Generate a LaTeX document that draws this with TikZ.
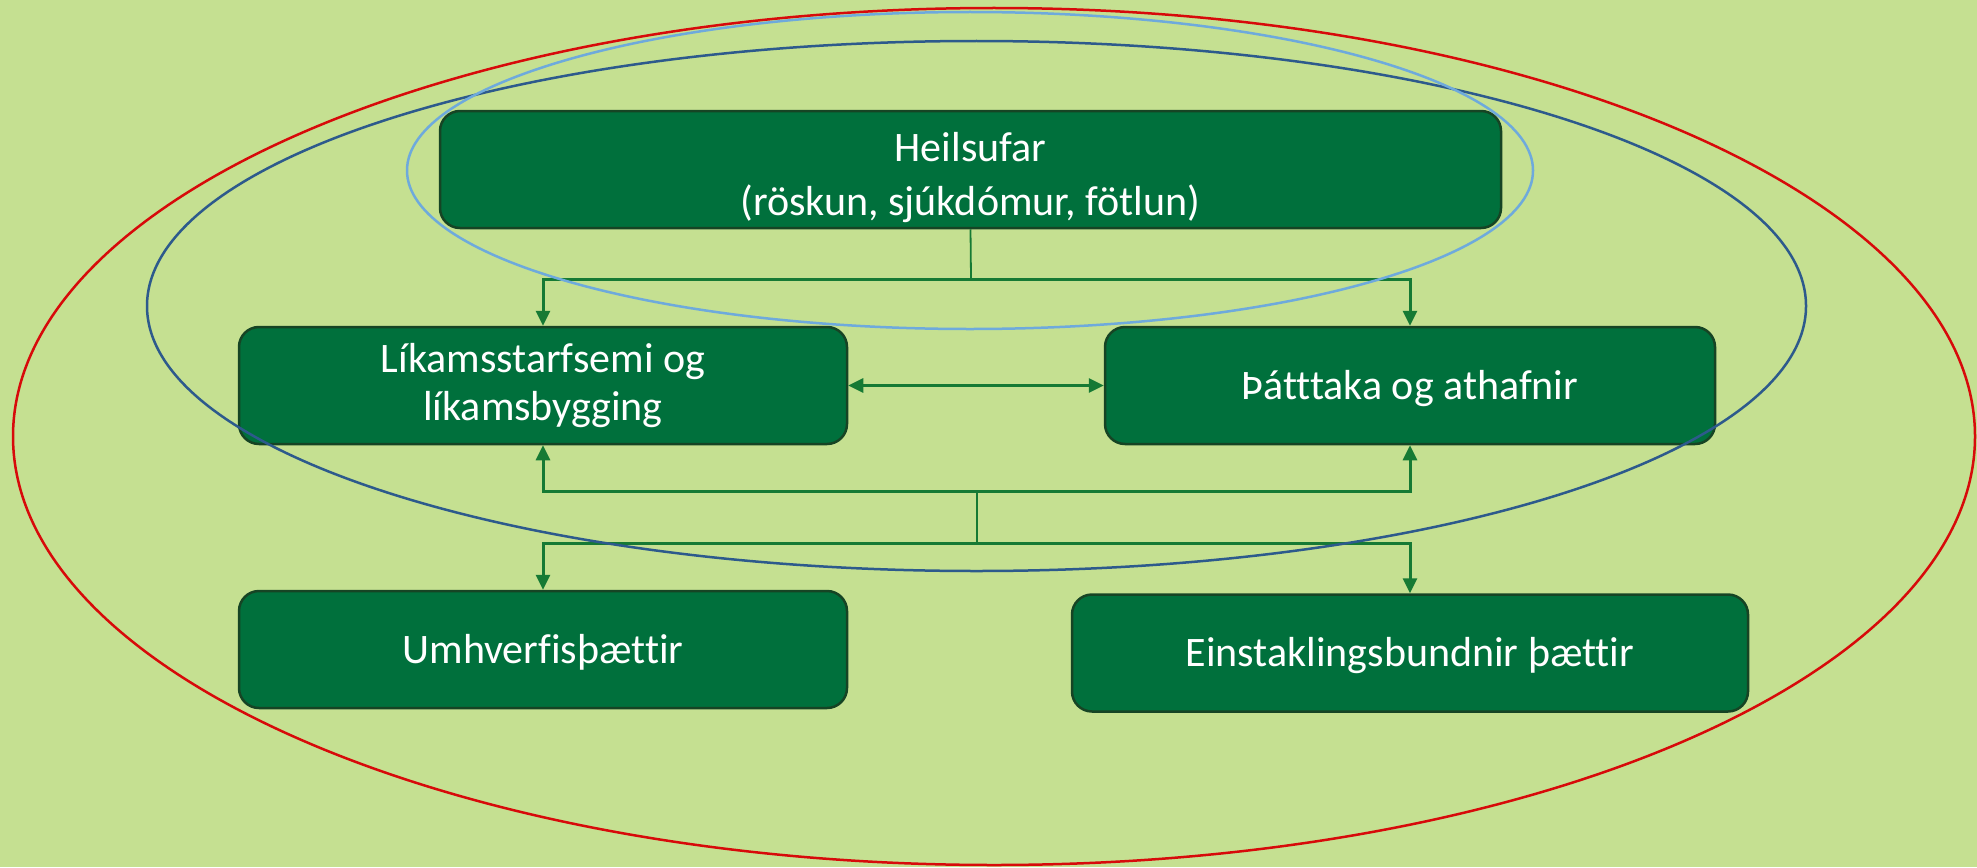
\documentclass[tikz,border=0pt]{standalone}
\usepackage{fontspec}
\setmainfont{Carlito}[Ligatures=NoCommon]
\usetikzlibrary{arrows.meta}
\definecolor{bg}{RGB}{197,224,145}
\definecolor{boxfill}{RGB}{0,112,60}
\definecolor{boxline}{RGB}{22,68,36}
\definecolor{conn}{RGB}{22,122,52}
\definecolor{ellred}{RGB}{215,10,10}
\definecolor{elldark}{RGB}{45,90,140}
\definecolor{elllight}{RGB}{110,170,220}
\newcommand{\tpad}[1]{\rule{0pt}{#1}}
\begin{document}
\begin{tikzpicture}[x=1pt,y=-1pt,
  gbox/.style={draw=boxline, line width=2.5pt, fill=boxfill, rounded corners=20pt,
    text=white, align=center, inner sep=0pt, font=\fontsize{42}{48}\selectfont},
  conline/.style={draw=conn, line width=3pt},
  stem/.style={draw=conn, line width=1.8pt},
  arr/.style={conline, -{Triangle[length=15pt,width=14pt]}},
  darr/.style={conline, {Triangle[length=15pt,width=14pt]}-{Triangle[length=15pt,width=14pt]}},
  ring/.style={line width=2.5pt}]
\fill[bg] (0,0) rectangle (1977,867);
\useasboundingbox (0,0) rectangle (1977,867);
% boxes
\node[gbox, minimum width=1061pt, minimum height=117pt, font=\fontsize{42}{54}\selectfont]
  (heil) at (970.5,169.5) {\tpad{45pt}Heilsufar\\(röskun, sjúkdómur, fötlun)};
\node[gbox, minimum width=608pt, minimum height=117pt] (lik) at (543,385.5)
  {Líkamsstarfsemi og\\líkamsbygging};
\node[gbox, minimum width=610pt, minimum height=117pt] (thatt) at (1410,385.5)
  {\tpad{35pt}Þátttaka og athafnir};
\node[gbox, minimum width=608pt, minimum height=117pt] (umh) at (543,649.5)
  {\tpad{35pt}Umhverfisþættir};
\node[gbox, minimum width=676pt, minimum height=117pt] (einst) at (1410,653)
  {\tpad{35pt}Einstaklingsbundnir þættir};
% connectors
\coordinate (t) at (971,279);
\coordinate (m1) at (977,491);
\coordinate (m2) at (977,543);
\draw[stem] (heil.south) -- (t);
\draw[arr] (t) -| (lik.north);
\draw[arr] (t) -| (thatt.north);
\draw[darr] (lik.east) -- (thatt.west);
\draw[stem] (m2) -- (m1);
\draw[arr] (m1) -| (lik.south);
\draw[arr] (m1) -| (thatt.south);
\draw[arr] (m2) -| (umh.north);
\draw[arr] (m2) -| (einst.north);
% ellipses
\draw[ring, draw=ellred] (994,436.5) ellipse [x radius=981pt, y radius=428.5pt];
\draw[ring, draw=elldark] (976.5,306) ellipse [x radius=829.5pt, y radius=265pt];
\draw[ring, draw=elllight] (970,170.5) ellipse [x radius=563pt, y radius=158.5pt];
\end{tikzpicture}
\end{document}
